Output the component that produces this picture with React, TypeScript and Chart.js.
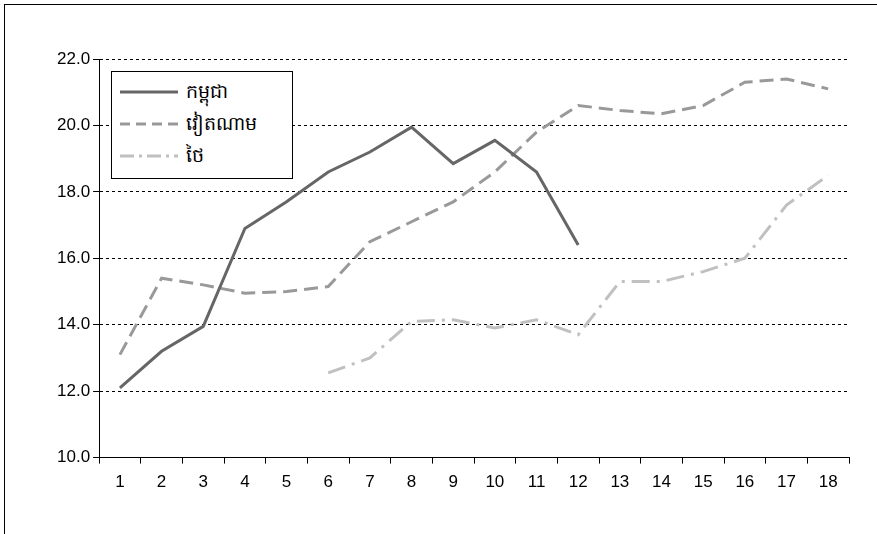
import { useEffect, useRef } from "react";
import { Chart, registerables } from "chart.js";

Chart.register(...registerables);

const categories = ["1","2","3","4","5","6","7","8","9","10","11","12","13","14","15","16","17","18"];
const cambodia = [12.1, 13.2, 13.95, 16.9, 17.7, 18.6, 19.2, 19.95, 18.85, 19.55, 18.6, 16.4, null, null, null, null, null, null];
const vietnam = [13.1, 15.4, 15.2, 14.95, 15.0, 15.15, 16.5, 17.1, 17.7, 18.6, 19.8, 20.6, 20.45, 20.35, 20.6, 21.3, 21.4, 21.1];
const thailand = [null, null, null, null, null, 12.55, 13.0, 14.1, 14.15, 13.9, 14.15, 13.7, 15.3, 15.3, 15.6, 16.0, 17.6, 18.5];
const seriesNames = ["កម្ពុជា", "វៀតណាម", "ថៃ"];

const FONT = "'Liberation Sans', Arial, sans-serif";

const App = () => {
  const canvasRef = useRef<HTMLCanvasElement | null>(null);
  const chartRef = useRef<Chart | null>(null);

  useEffect(() => {
    const ctx = canvasRef.current?.getContext("2d");
    if (!ctx) return;
    chartRef.current = new Chart(ctx, {
      type: "line",
      data: {
        labels: categories,
        datasets: [
          { label: seriesNames[0], data: cambodia, borderColor: "#666666", borderWidth: 3, pointRadius: 0, tension: 0 },
          { label: seriesNames[1], data: vietnam, borderColor: "#999999", borderWidth: 3, borderDash: [14, 7], pointRadius: 0, tension: 0 },
          { label: seriesNames[2], data: thailand, borderColor: "#c0c0c0", borderWidth: 3, borderDash: [18, 7, 3, 7], pointRadius: 0, tension: 0 },
        ],
      },
      options: {
        animation: false,
        responsive: false,
        layout: { padding: { left: 54, right: 28, top: 59, bottom: 32 } },
        plugins: { legend: { display: false }, tooltip: { enabled: false } },
        scales: {
          x: {
            offset: true,
            grid: { offset: true, drawOnChartArea: false, drawTicks: true, tickLength: 6, color: "#000" },
            border: { color: "#000" },
            ticks: { color: "#000", padding: 9, font: { family: FONT, size: 17 } },
          },
          y: {
            min: 10,
            max: 22,
            grid: { color: "#000", tickLength: 6 },
            border: { color: "#000", dash: [3, 3] },
            ticks: { stepSize: 2, color: "#000", font: { family: FONT, size: 17 }, callback: (v) => Number(v).toFixed(1) },
          },
        },
      },
    });
    return () => {
      chartRef.current?.destroy();
      chartRef.current = null;
    };
  }, []);

  const legendItems = [
    { dash: "", color: "#666666" },
    { dash: "10 6", color: "#999999" },
    { dash: "14 5 3 5", color: "#c0c0c0" },
  ];

  return (
    <div style={{ position: "fixed", left: 0, top: 0, width: 877, height: 534, background: "#fff", overflow: "hidden" }}>
      <div style={{ position: "absolute", left: 4, top: 4, width: 890, height: 560, border: "1px solid #000" }} />
      <canvas ref={canvasRef} width={877} height={534} style={{ position: "absolute", left: 0, top: 0 }} />
      <div style={{ position: "absolute", left: 111, top: 71, width: 182, height: 108, border: "1px solid #000", background: "#fff", padding: "4px 6px", boxSizing: "border-box", fontFamily: "'Noto Sans', sans-serif", fontSize: 19 }}>
        {legendItems.map((it, i) => (
          <div key={i} style={{ display: "flex", alignItems: "center", height: 32 }}>
            <svg width={62} height={10} style={{ marginRight: 6 }}>
              <line x1={2} y1={5} x2={60} y2={5} stroke={it.color} strokeWidth={3} strokeDasharray={it.dash} />
            </svg>
            <span>{seriesNames[i]}</span>
          </div>
        ))}
      </div>
    </div>
  );
};

export default App;
